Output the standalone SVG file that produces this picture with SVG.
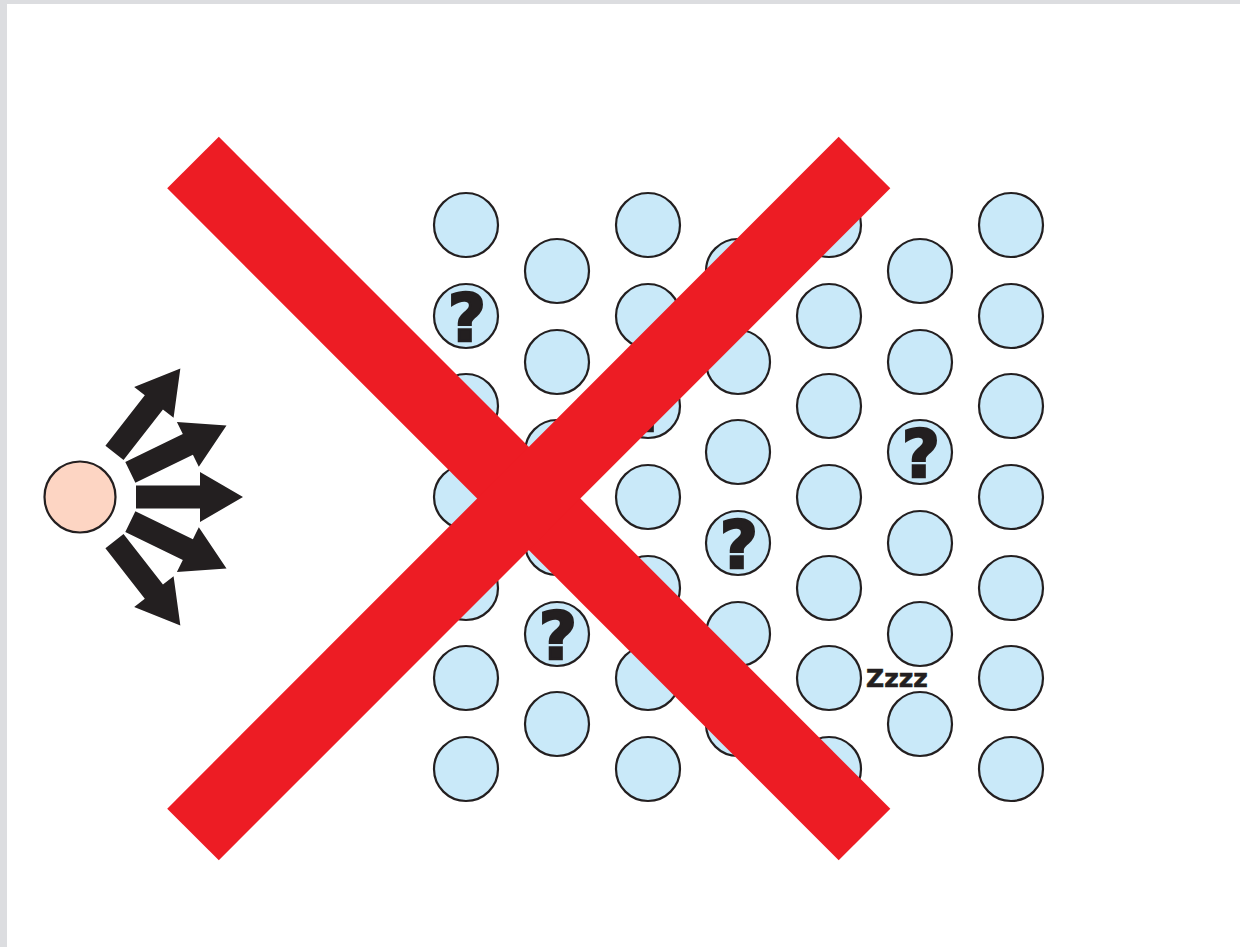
<svg xmlns="http://www.w3.org/2000/svg" width="1240" height="947" viewBox="0 0 1240 947">
<style>
.b{fill:#c9e9f9;stroke:#231f20;stroke-width:2.2}
.q{font-family:"DejaVu Sans",sans-serif;font-weight:bold;font-size:66px;fill:#231f20;stroke:#231f20;stroke-width:2.5;stroke-linejoin:miter;text-anchor:middle}
.z{font-family:"DejaVu Sans",sans-serif;font-weight:bold;font-size:25px;fill:#231f20;stroke:#231f20;stroke-width:0.6}
.x{stroke:#ed1c24;stroke-width:73;stroke-linecap:butt;fill:none}
.ar{fill:#231f20}
</style>
<defs>
<path id="arrow" d="M56,-11.5 L120,-11.5 L120,-25 L163,0 L120,25 L120,11.5 L56,11.5 Z"/>
</defs>
<rect x="0" y="0" width="1240" height="947" fill="#dcdde0"/>
<rect x="7" y="4" width="1233" height="943" fill="#ffffff"/>
<g id="person"><circle cx="80" cy="497" r="35.5" fill="#fdd5c3" stroke="#231f20" stroke-width="2.2"/></g>
<g id="arrows" class="ar">
<use href="#arrow" transform="translate(80,497) rotate(-52)"/>
<use href="#arrow" transform="translate(80,497) rotate(-26)"/>
<use href="#arrow" transform="translate(80,497)"/>
<use href="#arrow" transform="translate(80,497) rotate(26)"/>
<use href="#arrow" transform="translate(80,497) rotate(52)"/>
</g>
<g id="crowd">
<g id="c1-1"><circle class="b" cx="466" cy="225" r="32"/></g>
<g id="c1-2"><circle class="b" cx="466" cy="316" r="32"/><text class="q" x="467" y="341">?</text></g>
<g id="c1-3"><circle class="b" cx="466" cy="406" r="32"/></g>
<g id="c1-4"><circle class="b" cx="466" cy="497" r="32"/></g>
<g id="c1-5"><circle class="b" cx="466" cy="588" r="32"/></g>
<g id="c1-6"><circle class="b" cx="466" cy="678" r="32"/></g>
<g id="c1-7"><circle class="b" cx="466" cy="769" r="32"/></g>
<g id="c2-1"><circle class="b" cx="557" cy="271" r="32"/></g>
<g id="c2-2"><circle class="b" cx="557" cy="362" r="32"/></g>
<g id="c2-3"><circle class="b" cx="557" cy="452" r="32"/></g>
<g id="c2-4"><circle class="b" cx="557" cy="543" r="32"/></g>
<g id="c2-5"><circle class="b" cx="557" cy="634" r="32"/><text class="q" x="558" y="659">?</text></g>
<g id="c2-6"><circle class="b" cx="557" cy="724" r="32"/></g>
<g id="c3-1"><circle class="b" cx="648" cy="225" r="32"/></g>
<g id="c3-2"><circle class="b" cx="648" cy="316" r="32"/></g>
<g id="c3-3"><circle class="b" cx="648" cy="406" r="32"/><text class="q" x="649" y="431">?</text></g>
<g id="c3-4"><circle class="b" cx="648" cy="497" r="32"/></g>
<g id="c3-5"><circle class="b" cx="648" cy="588" r="32"/></g>
<g id="c3-6"><circle class="b" cx="648" cy="678" r="32"/></g>
<g id="c3-7"><circle class="b" cx="648" cy="769" r="32"/></g>
<g id="c4-1"><circle class="b" cx="738" cy="271" r="32"/></g>
<g id="c4-2"><circle class="b" cx="738" cy="362" r="32"/></g>
<g id="c4-3"><circle class="b" cx="738" cy="452" r="32"/></g>
<g id="c4-4"><circle class="b" cx="738" cy="543" r="32"/><text class="q" x="739" y="568">?</text></g>
<g id="c4-5"><circle class="b" cx="738" cy="634" r="32"/></g>
<g id="c4-6"><circle class="b" cx="738" cy="724" r="32"/></g>
<g id="c5-1"><circle class="b" cx="829" cy="225" r="32"/></g>
<g id="c5-2"><circle class="b" cx="829" cy="316" r="32"/></g>
<g id="c5-3"><circle class="b" cx="829" cy="406" r="32"/></g>
<g id="c5-4"><circle class="b" cx="829" cy="497" r="32"/></g>
<g id="c5-5"><circle class="b" cx="829" cy="588" r="32"/></g>
<g id="c5-6"><circle class="b" cx="829" cy="678" r="32"/></g>
<g id="c5-7"><circle class="b" cx="829" cy="769" r="32"/></g>
<g id="c6-1"><circle class="b" cx="920" cy="271" r="32"/></g>
<g id="c6-2"><circle class="b" cx="920" cy="362" r="32"/></g>
<g id="c6-3"><circle class="b" cx="920" cy="452" r="32"/><text class="q" x="921" y="477">?</text></g>
<g id="c6-4"><circle class="b" cx="920" cy="543" r="32"/></g>
<g id="c6-5"><circle class="b" cx="920" cy="634" r="32"/></g>
<g id="c6-6"><circle class="b" cx="920" cy="724" r="32"/></g>
<g id="c7-1"><circle class="b" cx="1011" cy="225" r="32"/></g>
<g id="c7-2"><circle class="b" cx="1011" cy="316" r="32"/></g>
<g id="c7-3"><circle class="b" cx="1011" cy="406" r="32"/></g>
<g id="c7-4"><circle class="b" cx="1011" cy="497" r="32"/></g>
<g id="c7-5"><circle class="b" cx="1011" cy="588" r="32"/></g>
<g id="c7-6"><circle class="b" cx="1011" cy="678" r="32"/></g>
<g id="c7-7"><circle class="b" cx="1011" cy="769" r="32"/></g>
</g>
<g id="zzz"><text class="z" x="866" y="687">Zzzz</text></g>
<g id="cross">
<line class="x" x1="193" y1="162.5" x2="864.5" y2="834.5"/>
<line class="x" x1="864.5" y1="162.5" x2="193" y2="834.5"/>
</g>
</svg>
